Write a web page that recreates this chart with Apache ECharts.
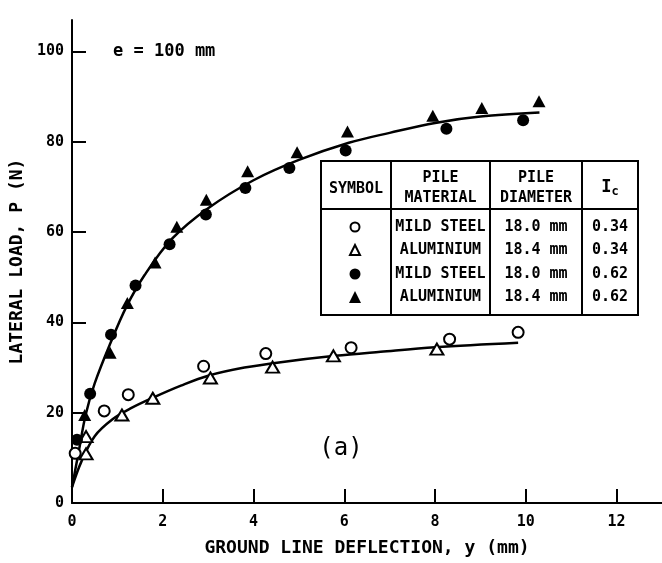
<!DOCTYPE html>
<html><head><meta charset="utf-8">
<script src="https://cdn.jsdelivr.net/npm/echarts@6/dist/echarts.min.js"></script>
<style>html,body{margin:0;padding:0;background:#fff}#c{width:662px;height:563px}</style>
</head><body><div id="c"></div>
<script>
const xTickLabels = ['0','2','4','6','8','10','12'];
const yTickLabels = ['0','20','40','60','80','100'];

// Mild steel, Ic = 0.34 (open circles)
const openCircle = [[0.07,11.0],[0.71,20.4],[1.24,24.0],[2.90,30.3],[4.27,33.1],[6.15,34.4],[8.32,36.3],[9.83,37.8]];
// Aluminium, Ic = 0.34 (open triangles)
const openTriangle = [[0.31,10.9],[0.31,14.7],[1.10,19.5],[1.78,23.2],[3.05,27.7],[4.42,30.1],[5.76,32.6],[8.04,34.1]];
// Mild steel, Ic = 0.62 (filled circles)
const filledCircle = [[0.11,14.0],[0.40,24.2],[0.86,37.3],[1.40,48.2],[2.15,57.3],[2.95,63.9],[3.82,69.8],[4.79,74.2],[6.03,78.1],[8.25,82.9],[9.94,84.8]];
// Aluminium, Ic = 0.62 (filled triangles)
const filledTriangle = [[0.28,19.5],[0.84,33.3],[1.22,44.3],[1.83,53.3],[2.31,61.2],[2.96,67.2],[3.87,73.5],[4.96,77.7],[6.07,82.3],[7.95,85.8],[9.03,87.5],[10.29,89.0]];

// fitted curves
const upperCurve = [[0.0,3.5],[0.15,11.5],[0.30,19.5],[0.50,26.5],[0.85,35.5],[1.20,43.5],[1.60,50.5],[2.20,58.5],[3.00,65.3],[4.00,71.5],[5.00,76.0],[6.10,79.8],[7.00,82.0],[8.00,84.2],[9.00,85.6],[10.30,86.5]];
const lowerCurve = [[0.0,3.5],[0.20,9.0],[0.50,14.8],[0.90,18.6],[1.30,21.0],[1.80,23.4],[2.40,26.0],[3.00,28.2],[3.80,30.0],[4.60,31.2],[5.80,32.6],[6.80,33.5],[8.00,34.5],[9.83,35.5]];

// table
const tableHeaders = [['SYMBOL'],['PILE','MATERIAL'],['PILE','DIAMETER']];
const materials = ['MILD STEEL','ALUMINIUM','MILD STEEL','ALUMINIUM'];
const diameters = ['18.0 mm','18.4 mm','18.0 mm','18.4 mm'];
const icValues = ['0.34','0.34','0.62','0.62'];
const legendShapes = ['openCircle','openTriangle','filledCircle','filledTriangle'];

const FONT = '"DejaVu Sans Mono", monospace';
const chart = echarts.init(document.getElementById('c'));

const T = {x0:321, x1:391, x2:490, x3:582, x4:638, y0:161, yh:209, y1:315};
const rowY = [227, 250, 274, 297];
const colC = [(T.x0+T.x1)/2, (T.x1+T.x2)/2, (T.x2+T.x3)/2, (T.x3+T.x4)/2];

const g = [];
g.push({type:'rect', shape:{x:T.x0,y:T.y0,width:T.x4-T.x0,height:T.y1-T.y0}, style:{fill:'#fff',stroke:'#000',lineWidth:2}, z:10});
g.push({type:'line', shape:{x1:T.x0,y1:T.yh,x2:T.x4,y2:T.yh}, style:{stroke:'#000',lineWidth:2}, z:11});
[T.x1,T.x2,T.x3].forEach(x=>g.push({type:'line', shape:{x1:x,y1:T.y0,x2:x,y2:T.y1}, style:{stroke:'#000',lineWidth:2}, z:11}));
function txt(t,x,y,size,weight){return {type:'text', z:12, style:{text:t,x:x,y:y,fontSize:size,fontFamily:FONT,fontWeight:weight||'bold',fill:'#000',align:'center',verticalAlign:'middle'}};}
g.push(txt(tableHeaders[0][0], colC[0], 189, 15));
g.push(txt(tableHeaders[1][0], colC[1], 178, 15));
g.push(txt(tableHeaders[1][1], colC[1], 198, 15));
g.push(txt(tableHeaders[2][0], colC[2], 178, 15));
g.push(txt(tableHeaders[2][1], colC[2], 198, 15));
g.push({type:'text', z:12, style:{text:'{a|I}{b|c}', x:colC[3], y:188, align:'center', verticalAlign:'middle',
  rich:{a:{fontSize:17,fontFamily:FONT,fontWeight:'bold',fill:'#000'}, b:{fontSize:12,fontFamily:FONT,fontWeight:'bold',fill:'#000',padding:[8,0,0,0]}}}});
rowY.forEach((y,i)=>{
  g.push(txt(materials[i], colC[1], y, 15));
  g.push(txt(diameters[i], colC[2], y, 15));
  g.push(txt(icValues[i], colC[3], y, 15));
  const cx = colC[0]-1, s = legendShapes[i];
  if (s==='openCircle') g.push({type:'circle', z:12, shape:{cx:cx,cy:y,r:4.5}, style:{fill:'#fff',stroke:'#000',lineWidth:2}});
  if (s==='filledCircle') g.push({type:'circle', z:12, shape:{cx:cx,cy:y,r:5.5}, style:{fill:'#000'}});
  if (s==='openTriangle') g.push({type:'polygon', z:12, shape:{points:[[cx,y-5],[cx-5,y+5],[cx+5,y+5]]}, style:{fill:'#fff',stroke:'#000',lineWidth:2}});
  if (s==='filledTriangle') g.push({type:'polygon', z:12, shape:{points:[[cx,y-6],[cx-6,y+6],[cx+6,y+6]]}, style:{fill:'#000'}});
});
g.push({type:'text', z:12, style:{text:'e = 100 mm', x:113, y:52, fontSize:17, fontFamily:FONT, fontWeight:'bold', fill:'#000', align:'left', verticalAlign:'middle'}});
g.push({type:'text', z:12, style:{text:'(a)', x:341, y:449, fontSize:24, fontFamily:FONT, fontWeight:'normal', fill:'#000', align:'center', verticalAlign:'middle'}});

const xVals = xTickLabels.map(Number);
const yVals = yTickLabels.map(Number);
const axisCommon = {
  axisLine:{show:true, onZero:false, lineStyle:{color:'#000', width:2}},
  splitLine:{show:false},
  nameLocation:'middle',
  nameTextStyle:{color:'#000', fontFamily:FONT, fontWeight:'bold', fontSize:18}
};

chart.setOption({
  animation:false,
  backgroundColor:'#fff',
  grid:{left:70, right:0, top:20, bottom:60, containLabel:false},
  xAxis:Object.assign({}, axisCommon, {
    type:'value', min:0, max:13, interval:2,
    name:'GROUND LINE DEFLECTION, y (mm)', nameGap:36,
    axisTick:{show:true, inside:true, length:14, customValues:xVals, lineStyle:{color:'#000', width:2}},
    axisLabel:{margin:12, color:'#000', fontFamily:FONT, fontWeight:'bold', fontSize:15, customValues:xVals,
      formatter:v=>xTickLabels.indexOf(String(v))>=0?String(v):''}
  }),
  yAxis:Object.assign({}, axisCommon, {
    type:'value', min:0, max:107, interval:20,
    name:'LATERAL LOAD, P (N)', nameGap:40,
    axisTick:{show:true, inside:true, length:14, customValues:yVals, lineStyle:{color:'#000', width:2}},
    axisLabel:{margin:8, color:'#000', fontFamily:FONT, fontWeight:'bold', fontSize:15, customValues:yVals,
      formatter:v=>yTickLabels.indexOf(String(v))>=0?String(v):''}
  }),
  graphic:g,
  series:[
    {type:'line', data:upperCurve, smooth:0.35, showSymbol:false, symbol:'none', lineStyle:{color:'#000', width:2.5}, z:2},
    {type:'line', data:lowerCurve, smooth:0.35, showSymbol:false, symbol:'none', lineStyle:{color:'#000', width:2.5}, z:2},
    {type:'scatter', name:'MILD STEEL 0.34', data:openCircle, symbol:'emptyCircle', symbolSize:11, itemStyle:{color:'#000', borderColor:'#000', borderWidth:2, opacity:1}, z:3},
    {type:'scatter', name:'ALUMINIUM 0.34', data:openTriangle, symbol:'emptyTriangle', symbolSize:[13,11], itemStyle:{color:'#000', borderColor:'#000', borderWidth:2, opacity:1}, z:3},
    {type:'scatter', name:'MILD STEEL 0.62', data:filledCircle, symbol:'circle', symbolSize:12, itemStyle:{color:'#000', opacity:1}, z:3},
    {type:'scatter', name:'ALUMINIUM 0.62', data:filledTriangle, symbol:'triangle', symbolSize:[13,12], itemStyle:{color:'#000', opacity:1}, z:3}
  ]
});
</script></body></html>
